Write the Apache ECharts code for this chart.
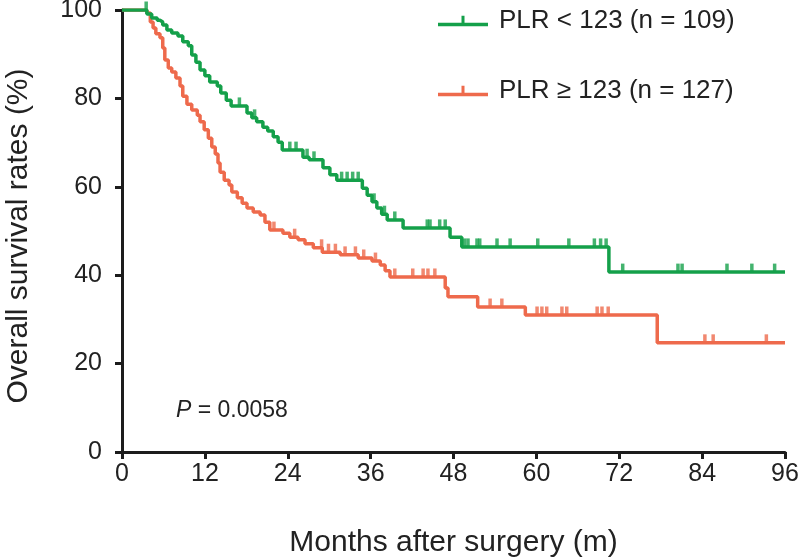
<!DOCTYPE html>
<html><head><meta charset="utf-8">
<script src="https://cdn.jsdelivr.net/npm/echarts@6/dist/echarts.min.js"></script>
<style>html,body{margin:0;padding:0;background:#fff}#c{width:800px;height:559px}</style>
</head><body><div id="c"></div>
<script>
const xTicks = [0,12,24,36,48,60,72,84,96];
const yTicks = [0,20,40,60,80,100];
const seriesNames = ['PLR < 123 (n = 109)', 'PLR \u2265 123 (n = 127)'];
const pText = '0.0058';

const gTimes = [3.6,4.3,5.1,5.5,5.9,6.5,7.2,8.1,8.8,9.6,10.1,10.7,11.3,12.0,12.7,13.8,14.3,15.1,15.8,18.1,18.8,19.5,20.4,21.1,21.9,22.6,23.2,26.2,27.1,29.1,30.1,31.1,34.8,35.5,36.2,36.9,37.6,38.4,40.7,47.5,49.2,70.5];
const gSurv  = [99.1,98.2,97.7,97.3,96.6,95.5,94.8,94.1,92.8,91.9,89.8,88.2,86.4,85.1,83.7,82.8,81.2,79.6,78.3,76.7,75.6,74.7,73.5,72.6,71.3,70.1,68.3,66.7,66.1,64.3,62.7,61.5,59.7,58.1,56.6,55.2,53.8,52.5,50.7,48.6,46.4,40.7];
const gCensor = [3.5,17.0,19.2,24.3,25.2,26.8,27.8,31.8,32.6,33.4,34.2,36.5,38.0,39.5,44.2,44.6,46.0,46.8,49.6,50.1,51.4,51.8,54.3,56.2,60.2,64.7,68.4,69.3,70.1,72.5,80.5,81.1,87.6,91.2,94.5];

const rTimes = [3.6,4.1,4.5,4.9,5.5,5.9,6.2,6.7,7.2,7.8,8.4,8.8,9.4,10.1,10.9,11.3,11.9,12.5,13.0,13.5,13.9,14.2,14.8,15.5,15.9,16.7,17.4,18.1,19.0,20.0,20.7,21.4,23.3,24.3,25.5,26.5,27.7,29.0,31.6,34.2,36.2,37.4,38.1,38.8,46.8,47.2,51.5,58.4,77.5];
const rSurv  = [99.3,97.3,95.9,94.6,93.7,91.4,88.7,86.9,86.0,84.6,82.8,80.5,78.7,77.4,76.2,74.7,72.9,71.0,69.0,67.4,65.4,63.3,61.5,60.4,58.8,57.5,56.3,55.2,54.3,53.6,52.0,50.2,49.5,48.6,48.0,47.1,46.2,45.2,44.6,43.9,43.2,42.3,41.0,39.6,37.1,35.1,32.8,31.0,24.7];
const rCensor = [22.0,25.0,28.9,29.9,30.9,32.3,33.8,35.0,36.7,39.5,42.1,43.6,44.3,45.3,53.3,55.0,60.1,60.8,61.5,63.7,64.4,68.8,69.5,70.4,84.4,85.6,93.3];

const GREEN = '#14a04a', RED = '#ee6a4c';
const FONT = "'Liberation Sans', Arial, Helvetica, sans-serif";

function stepData(times, surv){
  const d = [[0,100]];
  times.forEach((t,i)=>d.push([t,surv[i]]));
  d.push([96, surv[surv.length-1]]);
  return d;
}
function censorData(times, surv, cens){
  return cens.map(c=>{
    let v = 100;
    for(let i=0;i<times.length;i++){ if(times[i]<=c) v = surv[i]; }
    return [c, v];
  });
}

const chart = echarts.init(document.getElementById('c'), null, {renderer:'canvas'});
const icon = 'path://M0,7h50v3.5h-50z M23.5,0h3v7h-3z';
chart.setOption({
  animation:false,
  textStyle:{fontFamily:FONT},
  grid:{left:122,right:15,top:10,bottom:107,containLabel:false,outerBoundsMode:'none'},
  legend:{
    orient:'vertical', left:433, top:3, itemGap:44,
    itemWidth:50, itemHeight:11, icon:icon,
    data:seriesNames,
    textStyle:{fontSize:26,color:'#222',fontFamily:FONT,padding:[0,0,0,6]}
  },
  xAxis:{
    type:'value', min:0, max:96, interval:12,
    name:'Months after surgery (m)', nameLocation:'middle', nameGap:76,
    nameTextStyle:{fontSize:30,color:'#222',fontFamily:FONT},
    axisLine:{lineStyle:{color:'#1c1c1c',width:3}},
    axisTick:{length:7,lineStyle:{color:'#1c1c1c',width:3}},
    axisLabel:{fontSize:25,color:'#222',margin:10,fontFamily:FONT,
      formatter:v=>xTicks.includes(v)?String(v):''},
    splitLine:{show:false}
  },
  yAxis:{
    type:'value', min:0, max:100, interval:20,
    name:'Overall survival rates (%)', nameLocation:'middle', nameGap:88,
    nameTextStyle:{fontSize:30,color:'#222',fontFamily:FONT,padding:[0,0,0,-10]},
    axisLine:{show:true,lineStyle:{color:'#1c1c1c',width:3}},
    axisTick:{show:true,length:7,lineStyle:{color:'#1c1c1c',width:3}},
    axisLabel:{fontSize:25,color:'#222',margin:20,fontFamily:FONT,
      formatter:v=>yTicks.includes(v)?String(v):''},
    splitLine:{show:false}
  },
  series:[
    {name:seriesNames[0],type:'line',step:'end',data:stepData(gTimes,gSurv),
     showSymbol:false,symbol:'none',color:GREEN,lineStyle:{color:GREEN,width:3.5},z:3},
    {name:seriesNames[1],type:'line',step:'end',data:stepData(rTimes,rSurv),
     showSymbol:false,symbol:'none',color:RED,lineStyle:{color:RED,width:3.5},z:2},
    {type:'scatter',data:censorData(gTimes,gSurv,gCensor),symbol:'rect',symbolSize:[3.5,9],
     symbolOffset:[0,-4],itemStyle:{color:GREEN},z:4,silent:true},
    {type:'scatter',data:censorData(rTimes,rSurv,rCensor),symbol:'rect',symbolSize:[3.5,9],
     symbolOffset:[0,-4],itemStyle:{color:RED},z:3,silent:true}
  ],
  graphic:[{
    type:'text', left:176, top:399,
    style:{
      text:'{i|P} = '+pText,
      rich:{i:{fontStyle:'italic',fontSize:23,fill:'#222',fontFamily:FONT}},
      fontSize:23, fill:'#222', fontFamily:FONT
    }
  }]
});
</script></body></html>
